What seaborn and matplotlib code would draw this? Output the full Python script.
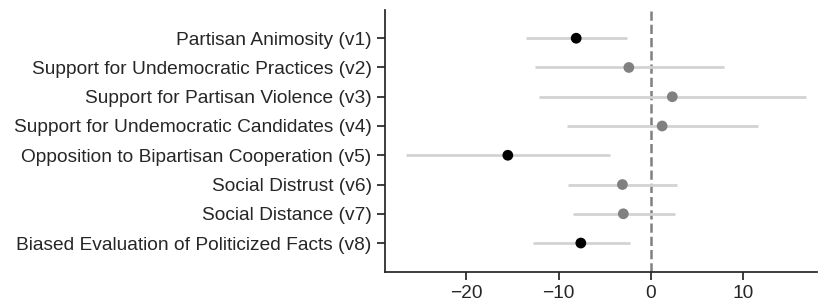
import seaborn as sns
import matplotlib.pyplot as plt
import pandas as pd

# données
labels = [
    "Partisan Animosity (v1)",
    "Support for Undemocratic Practices (v2)",
    "Support for Partisan Violence (v3)",
    "Support for Undemocratic Candidates (v4)",
    "Opposition to Bipartisan Cooperation (v5)",
    "Social Distrust (v6)",
    "Social Distance (v7)",
    "Biased Evaluation of Politicized Facts (v8)",
]
estimates = [-8.1, -2.4, 2.3, 1.2, -15.5, -3.1, -3.0, -7.6]
ci_low = [-13.5, -12.6, -12.1, -9.1, -26.5, -9.0, -8.5, -12.8]
ci_high = [-2.6, 7.9, 16.8, 11.6, -4.4, 2.8, 2.6, -2.3]
significant = [True, False, False, False, True, False, False, True]

df = pd.DataFrame({
    "label": labels,
    "pos": range(len(labels)),
    "estimate": estimates,
    "low": ci_low,
    "high": ci_high,
    "sig": significant,
})

sns.set_theme(style="ticks")
plt.rcParams["font.family"] = ["Liberation Sans", "DejaVu Sans"]

fig = plt.figure(figsize=(8.19, 3.07), dpi=100)
ax = fig.add_axes([0.470, 0.114, 0.528, 0.853])

# intervalles de confiance
ax.hlines(df["pos"], df["low"], df["high"], color="#d3d3d3", linewidth=2, zorder=1)

# ligne de référence à zéro
ax.axvline(0, color="#808080", linestyle="--", linewidth=1.8, zorder=0)

# estimations ponctuelles
sns.scatterplot(data=df, x="estimate", y="pos", hue="sig",
                palette={True: "black", False: "#808080"},
                s=60, edgecolor="none", legend=False, ax=ax, zorder=3)

ax.set_yticks(df["pos"])
ax.set_yticklabels(df["label"], fontsize=13.8)
ax.set_ylim(7.99, -0.96)
ax.set_xlim(-28.8, 18.0)
ax.set_xticks([-20, -10, 0, 10])
ax.tick_params(axis="x", labelsize=13.8)
ax.set_xlabel("")
ax.set_ylabel("")
sns.despine(ax=ax)

fig.savefig("out.png", dpi=100)
